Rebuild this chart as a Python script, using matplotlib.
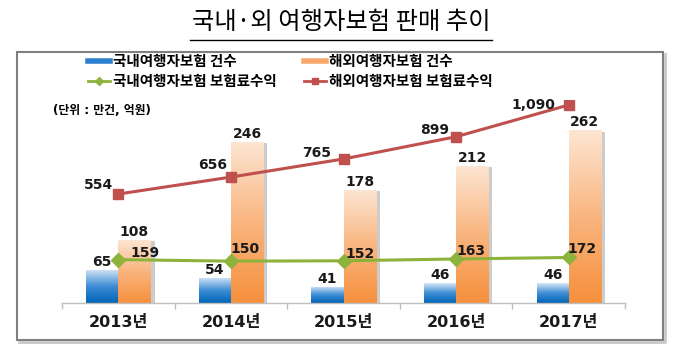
import numpy as np
import matplotlib
matplotlib.use('Agg')
import matplotlib.pyplot as plt
import matplotlib.patheffects as pe
from matplotlib.colors import LinearSegmentedColormap
from matplotlib.lines import Line2D
from matplotlib.patches import Rectangle

plt.rcParams['font.family'] = ['DejaVu Sans', 'Noto Sans CJK KR']

# data (만건, 억원)
years = ['2013년', '2014년', '2015년', '2016년', '2017년']
dom_count = [65, 54, 41, 46, 46]
ovs_count = [108, 246, 178, 212, 262]
dom_prem = [159, 150, 152, 163, 172]
ovs_prem = [554, 656, 765, 899, 1090]

W, H = 680, 360
fig = plt.figure(figsize=(W / 100, H / 100), dpi=100)

# outer frame (with a light shadow line right/bottom)
fig.add_artist(Line2D([19 / W, 665 / W, 665 / W], [1 - 342 / H, 1 - 342 / H, 1 - 54 / H],
                      transform=fig.transFigure, color='#C8C8C8', lw=2))
fig.add_artist(Rectangle((17 / W, 1 - 340 / H), (663 - 17) / W, (340 - 52) / H,
                         transform=fig.transFigure, fill=False, ec='#7F7F7F', lw=1.5))

# title with underline
fig.text(341 / W, 1 - 22 / H, '국내·외 여행자보험 판매 추이', ha='center', va='center',
         fontsize=17.5, family=['Noto Sans CJK KR'])
fig.add_artist(Line2D([190 / W, 492 / W], [1 - 40 / H] * 2, transform=fig.transFigure,
                      color='black', lw=1))

ax = fig.add_axes([62 / W, 1 - 303 / H, (625 - 62) / W, 203 / H])
x = np.arange(len(years))
w = 0.285

blue_cmap = LinearSegmentedColormap.from_list('b', ['#0064B6', '#3F8ED5', '#D6E6F6'])
orange_cmap = LinearSegmentedColormap.from_list('o', ['#F6903C', '#F9B57F', '#FDE6D3'])
grad = np.linspace(0, 1, 256).reshape(-1, 1)

shadow = [pe.SimplePatchShadow(offset=(3, -1), shadow_rgbFace='#9A9A9A', alpha=0.5), pe.Normal()]
bars_d = ax.bar(x - w / 2, dom_count, w, color='#3F8ED5', zorder=2, path_effects=shadow)
bars_o = ax.bar(x + w / 2, ovs_count, w, color='#F9B57F', zorder=2, path_effects=shadow)
ax.set_xlim(-0.5, 4.5)
ax.set_ylim(18.4, 305)

y0 = ax.get_ylim()[0]
for bars, cmap in [(bars_d, blue_cmap), (bars_o, orange_cmap)]:
    for b in bars:
        bx, bw, bh = b.get_x(), b.get_width(), b.get_height()
        im = ax.imshow(grad, cmap=cmap, origin='lower', aspect='auto',
                       extent=(bx, bx + bw, y0, bh), zorder=2.1)
        im.set_clip_path(b)
ax.set_xlim(-0.5, 4.5)
ax.set_ylim(18.4, 305)

for bars, vals in [(bars_d, dom_count), (bars_o, ovs_count)]:
    for b, v in zip(bars, vals):
        ax.annotate(str(v), (b.get_x() + b.get_width() / 2, v), xytext=(0, 1),
                    textcoords='offset pixels', ha='center', va='bottom',
                    fontsize=10, fontweight='bold', color='#1A1A1A', zorder=4)

for s in ['top', 'left', 'right']:
    ax.spines[s].set_visible(False)
ax.spines['bottom'].set_color('#BFBFBF')
ax.spines['bottom'].set_linewidth(1)
ax.set_yticks([])
ax.set_xticks(x)
ax.set_xticklabels(years, fontweight='bold', fontsize=11.5, color='#1A1A1A')
ax.set_xticks(np.arange(-0.5, 5, 1), minor=True)
ax.tick_params(axis='x', which='major', length=0, pad=9)
ax.tick_params(axis='x', which='minor', length=4, color='#BFBFBF', width=1)

ax2 = ax.twinx()
ax2.set_ylim(-102, 1120)
ax2.set_yticks([])
for s in ax2.spines.values():
    s.set_visible(False)

ax2.plot(x, ovs_prem, color='#C0504D', lw=2.2, marker='s', ms=6.5, zorder=3)
ax2.plot(x, dom_prem, color='#8DB33D', lw=2.2, marker='D', ms=7, zorder=3)

red_off = [(-5, 9), (-4, 12), (-12, 6), (-7, 7), (-13, 0)]
for xi, v, off in zip(x, ovs_prem, red_off):
    ax2.annotate(f'{v:,}', (xi, v), xytext=off, textcoords='offset pixels',
                 ha='right', va='center', fontsize=10, fontweight='bold', color='#1A1A1A')

green_off = [(27, 7), (14, 12), (17, 7), (15, 8), (13, 8)]
for xi, v, off in zip(x, dom_prem, green_off):
    ax2.annotate(str(v), (xi, v), xytext=off, textcoords='offset pixels',
                 ha='center', va='center', fontsize=10, fontweight='bold', color='#1A1A1A')

# legend
handles = [Line2D([], [], color='#2F7FD0', lw=4),
           Line2D([], [], color='#8DB33D', lw=2, marker='D', ms=4),
           Line2D([], [], color='#F8A86A', lw=4),
           Line2D([], [], color='#C0504D', lw=2, marker='s', ms=4)]
labels = ['국내여행자보험 건수', '국내여행자보험 보험료수익',
          '해외여행자보험 건수', '해외여행자보험 보험료수익']
fig.legend(handles, labels, ncol=2, loc='upper left', bbox_to_anchor=(88 / W, 1 - 53 / H),
           frameon=False, borderpad=0, borderaxespad=0, handlelength=1.5,
           handletextpad=0.2, columnspacing=1.9, labelspacing=0.25,
           prop={'family': ['Noto Sans CJK KR'], 'weight': 'bold', 'size': 10.5})

fig.text(53 / W, 1 - 110 / H, '(단위 : 만건, 억원)', ha='left', va='center',
         fontsize=8.5, fontweight='bold', family=['DejaVu Sans', 'Noto Sans CJK KR'])

fig.savefig('out.png', dpi=100)
